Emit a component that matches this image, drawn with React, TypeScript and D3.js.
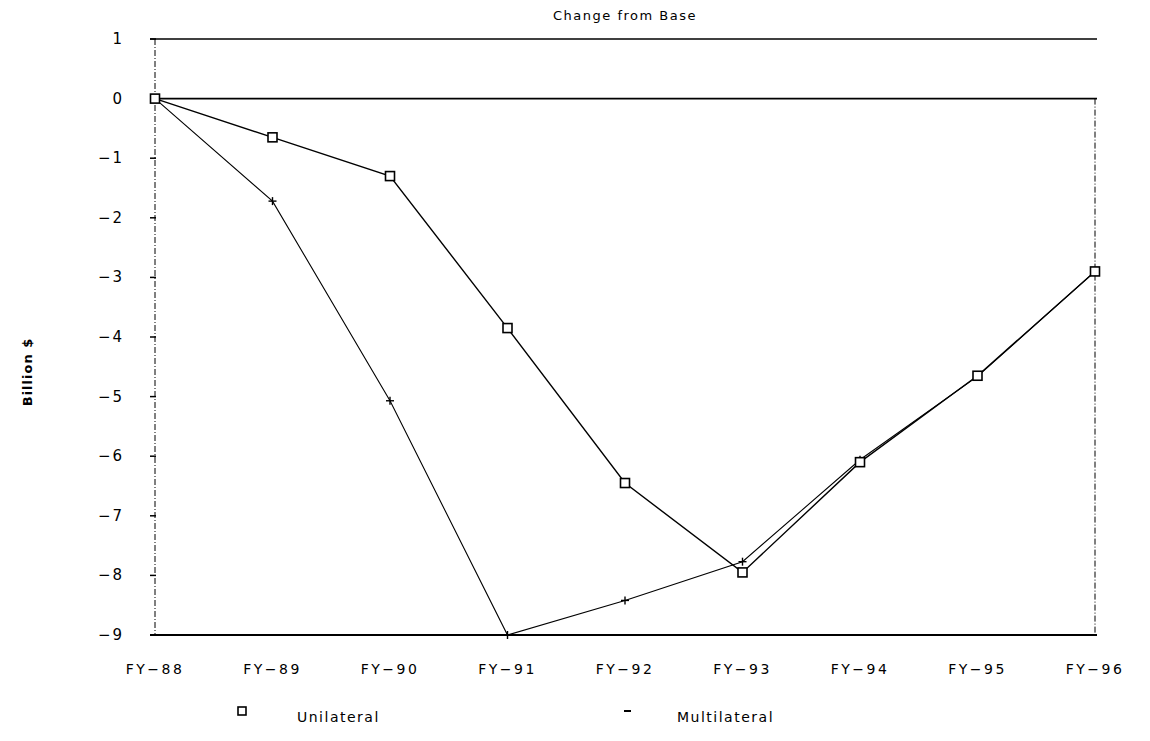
import React from "react";
import * as d3 from "d3";

const years = ["FY-88", "FY-89", "FY-90", "FY-91", "FY-92", "FY-93", "FY-94", "FY-95", "FY-96"];
const unilateral = [0, -0.65, -1.3, -3.85, -6.45, -7.95, -6.1, -4.65, -2.9];
const multilateral = [0, -1.72, -5.07, -9.0, -8.42, -7.77, -6.06, -4.66, -2.9];
const yTicks = [1, 0, -1, -2, -3, -4, -5, -6, -7, -8, -9];

const W = 1150, H = 741;
const font = "'DejaVu Sans', Verdana, sans-serif";

export default function App() {
  const x = d3.scalePoint<string>().domain(years).range([155, 1095]);
  const y = d3.scaleLinear().domain([-9, 1]).range([635, 39]);
  const line = d3.line<number>().x((_, i) => x(years[i])!).y((d) => y(d));

  return (
    <svg width={W} height={H} style={{ position: "absolute", left: 0, top: 0, background: "#fff" }}>
      <rect width={W} height={H} fill="#fff" />
      <text x={625} y={20} textAnchor="middle" fontFamily={font} fontSize={13} letterSpacing={1.5}>Change from Base</text>
      {/* frame lines */}
      <line x1={150} x2={1097} y1={y(1)} y2={y(1)} stroke="#000" strokeWidth={1.6} />
      <line x1={150} x2={1097} y1={y(0)} y2={y(0)} stroke="#000" strokeWidth={1.6} />
      <line x1={150} x2={1097} y1={y(-9)} y2={y(-9)} stroke="#000" strokeWidth={2} />
      <line x1={155} x2={155} y1={y(1)} y2={y(-9)} stroke="#000" strokeWidth={1} strokeDasharray="6 2 1 2" />
      <line x1={1095} x2={1095} y1={y(0)} y2={y(-9)} stroke="#000" strokeWidth={1} strokeDasharray="6 2 1 2" />
      {yTicks.map((t) => (
        <g key={t}>
          <line x1={150} x2={156} y1={y(t)} y2={y(t)} stroke="#000" strokeWidth={1.5} />
          <text x={124} y={y(t) + 5} textAnchor="end" fontFamily={font} fontSize={15} letterSpacing={2}>
            {t < 0 ? "\u2212" + Math.abs(t) : String(t)}
          </text>
        </g>
      ))}
      {years.map((yr) => (
        <text key={yr} x={x(yr)!} y={674} textAnchor="middle" fontFamily={font} fontSize={14} letterSpacing={2.5}>
          {yr.replace("-", "\u2212")}
        </text>
      ))}
      <text transform={`translate(32,372) rotate(-90)`} textAnchor="middle" fontFamily={font} fontSize={13} fontWeight="bold" letterSpacing={1}>Billion $</text>
      {/* series */}
      <path d={line(multilateral) ?? ""} fill="none" stroke="#000" strokeWidth={1.1} />
      <path d={line(unilateral) ?? ""} fill="none" stroke="#000" strokeWidth={1.4} />
      {multilateral.map((v, i) => (
        <g key={"m" + i} stroke="#000" strokeWidth={1.4}>
          <line x1={x(years[i])! - 4} x2={x(years[i])! + 4} y1={y(v)} y2={y(v)} />
          <line x1={x(years[i])!} x2={x(years[i])!} y1={y(v) - 4} y2={y(v) + 4} />
        </g>
      ))}
      {unilateral.map((v, i) => (
        <rect key={"u" + i} x={x(years[i])! - 4.5} y={y(v) - 4.5} width={9} height={9} fill="#fff" stroke="#000" strokeWidth={1.6} />
      ))}
      {/* legend */}
      <rect x={238} y={707} width={8} height={8} fill="#fff" stroke="#000" strokeWidth={1.6} />
      <text x={297} y={722} fontFamily={font} fontSize={14} letterSpacing={1.5}>Unilateral</text>
      <line x1={624} x2={631} y1={711} y2={711} stroke="#000" strokeWidth={2} />
      <text x={677} y={722} fontFamily={font} fontSize={14} letterSpacing={1.5}>Multilateral</text>
    </svg>
  );
}
